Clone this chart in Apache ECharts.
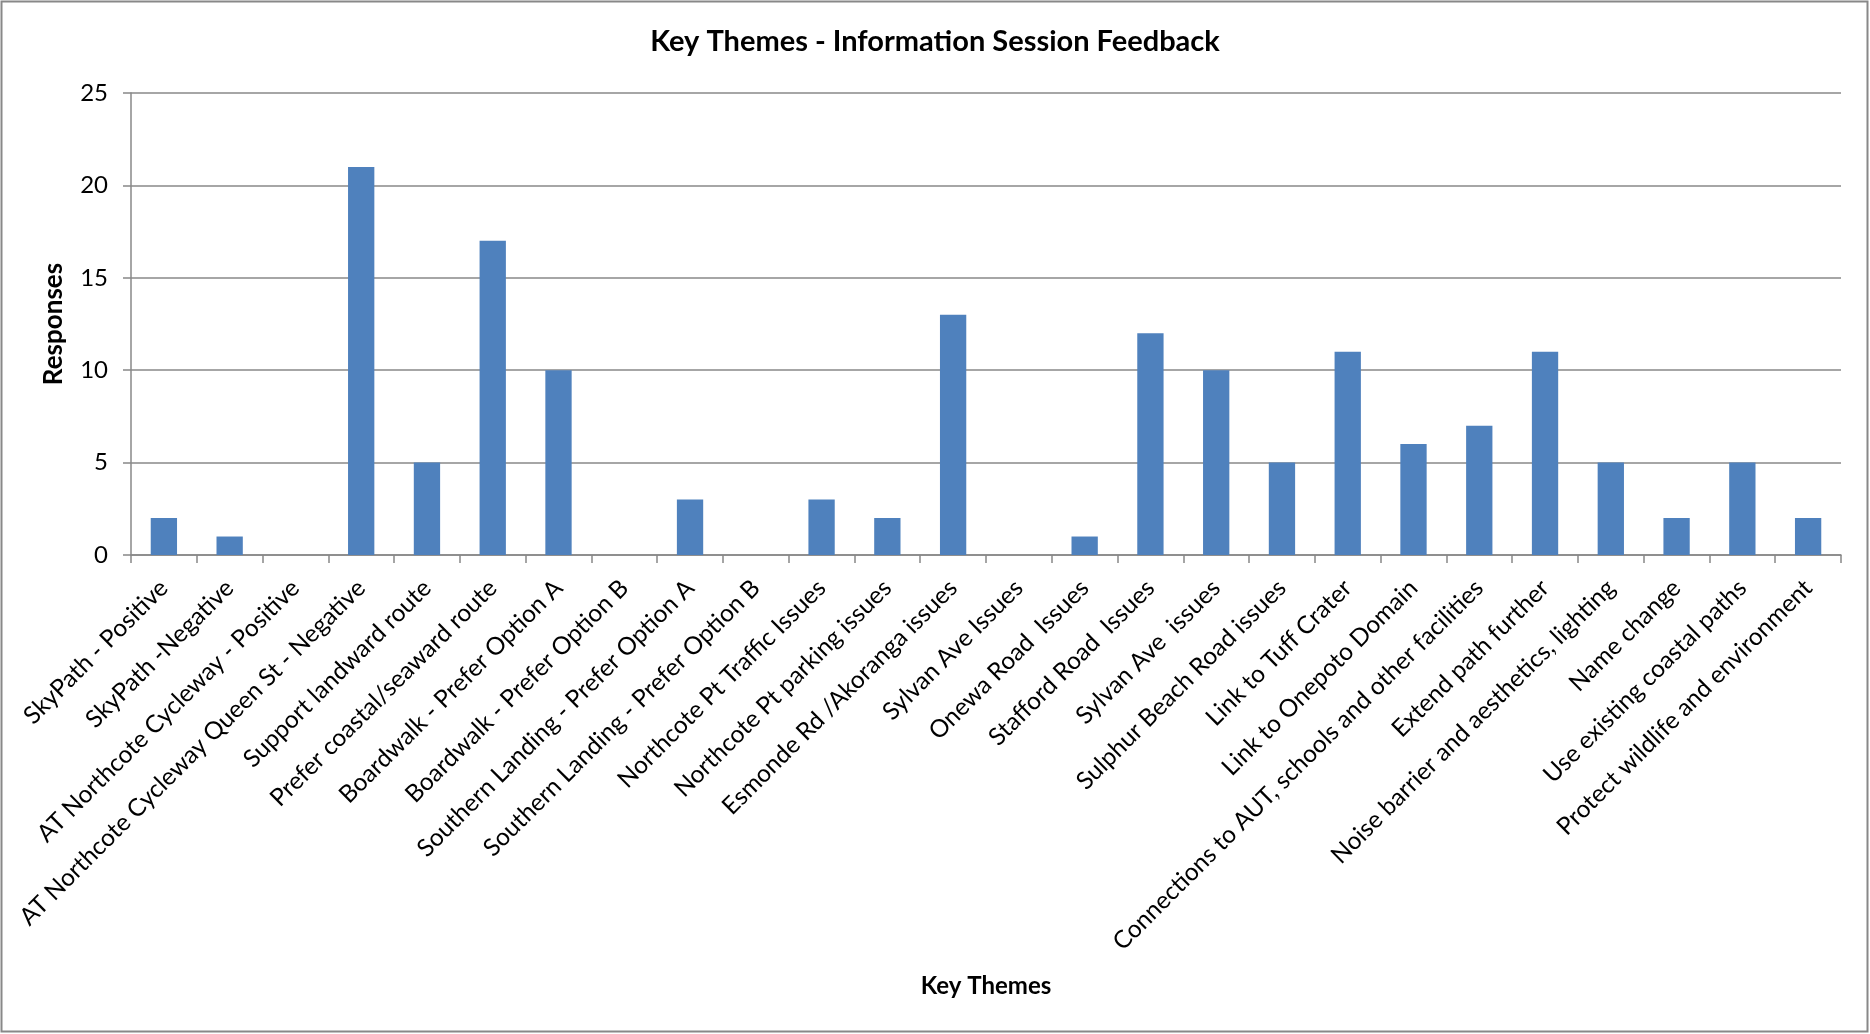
<!DOCTYPE html>
<html>
<head>
<meta charset="utf-8">
<script src="https://cdn.jsdelivr.net/npm/echarts@6/dist/echarts.min.js"></script>
<style>
html,body{margin:0;padding:0;background:#fff;}
#chart{width:1870px;height:1034px;}
</style>
</head>
<body>
<div id="chart"></div>
<script>
const categories = [
  "SkyPath - Positive",
  "SkyPath -Negative",
  "AT Northcote Cycleway - Positive",
  "AT Northcote Cycleway Queen St - Negative",
  "Support landward route",
  "Prefer coastal/seaward route",
  "Boardwalk - Prefer Option A",
  "Boardwalk - Prefer Option B",
  "Southern Landing - Prefer Option A",
  "Southern Landing - Prefer Option B",
  "Northcote Pt Traffic Issues",
  "Northcote Pt parking issues",
  "Esmonde Rd /Akoranga issues",
  "Sylvan Ave Issues",
  "Onewa Road  Issues",
  "Stafford Road  Issues",
  "Sylvan Ave  issues",
  "Sulphur Beach Road issues",
  "Link to Tuff Crater",
  "Link to Onepoto Domain",
  "Connections to AUT, schools and other facilities",
  "Extend path further",
  "Noise barrier and aesthetics, lighting",
  "Name change",
  "Use existing coastal paths",
  "Protect wildlife and environment"
];
const responses = [2, 1, 0, 21, 5, 17, 10, 0, 3, 0, 3, 2, 13, 0, 1, 12, 10, 5, 11, 6, 7, 11, 5, 2, 5, 2];
const yTicks = [0, 5, 10, 15, 20, 25];

const FONT = "Lato, 'Open Sans', sans-serif";
const chart = echarts.init(document.getElementById('chart'), null, {renderer: 'canvas'});
chart.setOption({
  backgroundColor: '#ffffff',
  animation: false,
  title: {
    text: 'Key Themes - Information Session Feedback',
    left: 'center',
    top: 22,
    textStyle: {fontFamily: FONT, fontSize: 29, fontWeight: 'bold', color: '#000'}
  },
  graphic: [{
    type: 'rect',
    shape: {x: 1.5, y: 1.5, width: 1866, height: 1030},
    style: {fill: 'none', stroke: '#888888', lineWidth: 2},
    silent: true
  }],
  grid: {left: 131, right: 29, top: 93, bottom: 479, containLabel: false, outerBoundsMode: 'none'},
  xAxis: {
    type: 'category',
    data: categories,
    name: 'Key Themes',
    nameLocation: 'middle',
    nameGap: 419,
    nameMoveOverlap: false,
    nameTextStyle: {fontFamily: FONT, fontSize: 24, fontWeight: 'bold', color: '#000'},
    axisLine: {lineStyle: {color: '#888888', width: 1.5}},
    axisTick: {show: true, length: 8, lineStyle: {color: '#888888', width: 1.5}},
    axisLabel: {rotate: 45, interval: 0, margin: 29, fontFamily: FONT, fontSize: 24.4, color: '#000'}
  },
  yAxis: {
    type: 'value',
    min: yTicks[0],
    max: yTicks[yTicks.length - 1],
    interval: yTicks[1] - yTicks[0],
    name: 'Responses',
    nameLocation: 'middle',
    nameRotate: 90,
    nameGap: 64,
    nameMoveOverlap: false,
    nameTextStyle: {fontFamily: FONT, fontSize: 26, fontWeight: 'bold', color: '#000'},
    axisLine: {show: true, lineStyle: {color: '#888888', width: 1.5}},
    axisTick: {show: true, length: 8, lineStyle: {color: '#888888', width: 1.5}},
    axisLabel: {margin: 23, fontFamily: FONT, fontSize: 24, color: '#000'},
    splitLine: {show: true, lineStyle: {color: '#888888', width: 1.5}}
  },
  series: [{
    type: 'bar',
    data: responses,
    barWidth: '40%',
    itemStyle: {color: '#4F81BD'}
  }]
});
</script>
</body>
</html>
